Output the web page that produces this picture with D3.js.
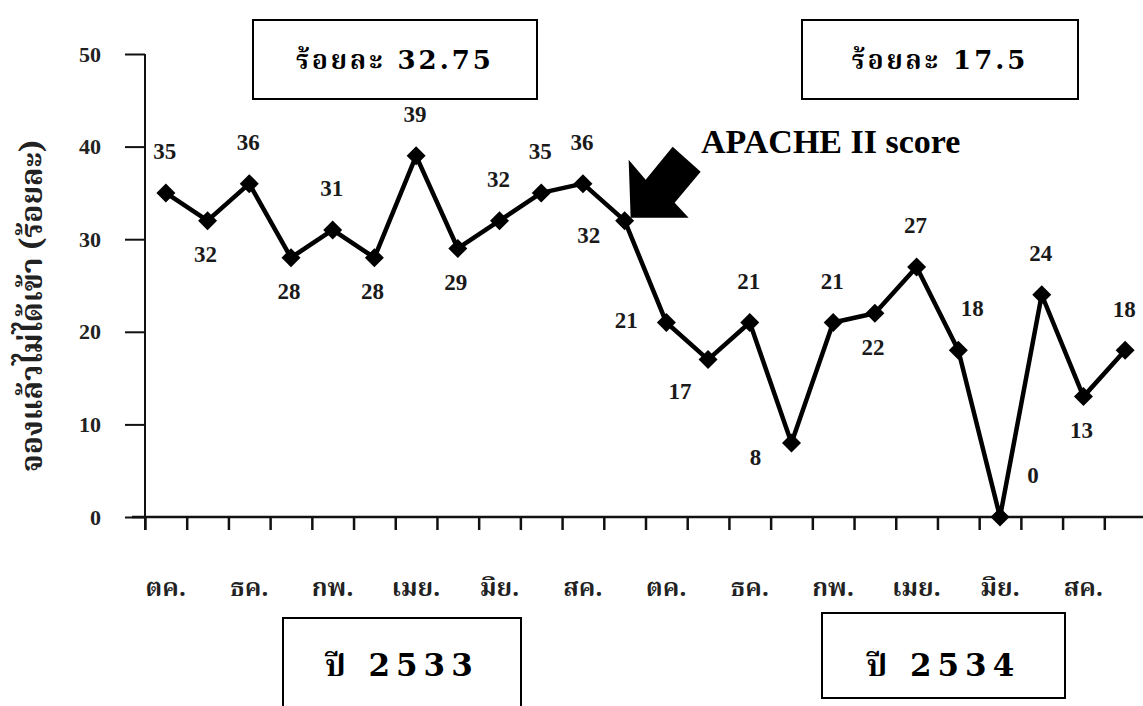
<!DOCTYPE html>
<html>
<head>
<meta charset="utf-8">
<script src="https://cdn.jsdelivr.net/npm/d3@7"></script>
<style>
  html, body { margin: 0; padding: 0; background: #fff; }
  svg { display: block; }
</style>
</head>
<body>
<svg id="chart" width="1143" height="706"></svg>
<script>
// Monthly share of booked ICU beds not admitted (%), Oct 2532 – Sep 2534
const months = ["ตค.", "พย.", "ธค.", "มค.", "กพ.", "มีค.", "เมย.", "พค.", "มิย.", "กค.", "สค.", "กย.",
                "ตค.", "พย.", "ธค.", "มค.", "กพ.", "มีค.", "เมย.", "พค.", "มิย.", "กค.", "สค.", "กย."];
const values = [35, 32, 36, 28, 31, 28, 39, 29, 32, 35, 36, 32,
                21, 17, 21, 8, 21, 22, 27, 18, 0, 24, 13, 18];
// where each value label sits relative to its marker
const labelSide = ["n", "s", "n", "s", "n", "s", "n", "s", "n", "n", "n", "w",
                   "wc", "sw", "n", "w", "n", "s", "n", "ne", "nee", "n", "s", "n"];
const yTicks = [0, 10, 20, 30, 40, 50];
const periodNotes = ["ร้อยละ 32.75", "ร้อยละ 17.5"];
const yearNotes = ["ปี 2533", "ปี 2534"];
const pointerText = "APACHE II score";
const pointerIndex = 11;

const svg = d3.select("#chart");
const serif = "'Liberation Serif', 'Times New Roman', serif";
const thai = "'Noto Serif Thai', 'Noto Sans Thai', 'Loma', 'Garuda', 'Norasi', serif";

const x0 = 145, x1 = 1146, yTop = 54, yBot = 517;
const x = d3.scaleBand().domain(d3.range(values.length)).range([x0, x1]).padding(0);
const xEdge = d3.scaleLinear().domain([0, values.length]).range([x0, x1]);
const y = d3.scaleLinear().domain([0, 50]).range([yBot, yTop]);
const cx = i => x(i) + x.bandwidth() / 2;

// y axis
const yAxis = svg.append("g")
  .attr("transform", `translate(${x0},0)`)
  .call(d3.axisLeft(y).tickValues(yTicks).tickSize(20).tickPadding(24).tickFormat(d3.format("d")));
yAxis.select(".domain").attr("d", `M0,${yTop}V${yBot + 13}`);
yAxis.selectAll("path, line").attr("stroke", "#111").attr("stroke-width", 2);
yAxis.selectAll("text")
  .attr("font-family", serif).attr("font-weight", "bold").attr("font-size", 22)
  .attr("fill", "#222");

// x axis: ticks on every month boundary
const xAxis = svg.append("g")
  .attr("transform", `translate(0,${yBot})`)
  .call(d3.axisBottom(xEdge).tickValues(d3.range(values.length + 1)).tickSize(13).tickFormat(""));
xAxis.select(".domain").attr("d", `M${x0 - 13},0H${x1}`);
xAxis.selectAll("path, line").attr("stroke", "#111").attr("stroke-width", 2.5);

// month labels, every second month
svg.append("g").selectAll("text")
  .data(months.map((m, i) => ({ m, i })).filter(d => d.i % 2 === 0))
  .join("text")
  .attr("x", d => cx(d.i))
  .attr("y", 589)
  .attr("text-anchor", "middle")
  .attr("dominant-baseline", "central")
  .attr("font-family", thai).attr("font-weight", "bold").attr("font-size", 25)
  .attr("fill", "#222")
  .text(d => d.m);

// y axis title
svg.append("text")
  .attr("transform", "translate(34,306) rotate(-90)")
  .attr("text-anchor", "middle")
  .attr("dominant-baseline", "central")
  .attr("font-family", thai).attr("font-weight", "bold").attr("font-size", 30)
  .attr("fill", "#222")
  .text("จองแล้วไม่ได้เข้า (ร้อยละ)");

// series line
svg.append("path")
  .datum(values)
  .attr("fill", "none")
  .attr("stroke", "#000")
  .attr("stroke-width", 4.5)
  .attr("stroke-linejoin", "round")
  .attr("d", d3.line().x((d, i) => cx(i)).y(d => y(d)));

// diamond markers
svg.append("g").selectAll("path")
  .data(values)
  .join("path")
  .attr("transform", (d, i) => `translate(${cx(i)},${y(d)})`)
  .attr("d", d3.symbol(d3.symbolDiamond2, 230)())
  .attr("fill", "#000");

// value labels
const offsets = {
  n: [-1, -41], s: [-2, 34], w: [-36, 15], wc: [-40, -2],
  sw: [-28, 32], ne: [14, -42], nee: [33, -42]
};
svg.append("g").selectAll("text")
  .data(values)
  .join("text")
  .attr("x", (d, i) => cx(i) + offsets[labelSide[i]][0])
  .attr("y", (d, i) => y(d) + offsets[labelSide[i]][1])
  .attr("text-anchor", "middle")
  .attr("dominant-baseline", "central")
  .attr("font-family", serif).attr("font-weight", "bold").attr("font-size", 23)
  .attr("fill", "#1a1a1a")
  .text(d => d);

// pointer arrow toward the month the scoring system was introduced
const tip = [cx(pointerIndex) + 6, y(values[pointerIndex]) - 3];
const arrowShape = [[0, 0], [-2, -58], [15, -38], [42, -71], [70, -46], [44, -15], [58, 0]];
svg.append("path")
  .attr("d", d3.line()(arrowShape.map(p => [tip[0] + p[0], tip[1] + p[1]])) + "Z")
  .attr("fill", "#000");
svg.append("text")
  .attr("x", 701).attr("y", 153)
  .attr("font-family", serif).attr("font-weight", "bold").attr("font-size", 34)
  .attr("fill", "#000")
  .text(pointerText);

// boxed notes
function note(bx, by, bw, bh, text, size, spacing, ty) {
  svg.append("rect")
    .attr("x", bx).attr("y", by).attr("width", bw).attr("height", bh)
    .attr("fill", "#fff").attr("stroke", "#000").attr("stroke-width", 2);
  svg.append("text")
    .attr("x", bx + bw / 2).attr("y", ty)
    .attr("text-anchor", "middle")
    .attr("dominant-baseline", "central")
    .attr("font-family", "'DejaVu Serif', " + thai).attr("font-weight", "bold")
    .attr("font-size", size).attr("letter-spacing", spacing)
    .attr("fill", "#000")
    .text(text);
}
note(253, 20, 284, 79, periodNotes[0], 26, 3, 60);
note(802, 20, 276, 79, periodNotes[1], 26, 3, 60);
note(283, 618, 238, 100, yearNotes[0], 31, 6, 665);
note(822, 613, 243, 85, yearNotes[1], 31, 6, 665);
</script>
</body>
</html>
